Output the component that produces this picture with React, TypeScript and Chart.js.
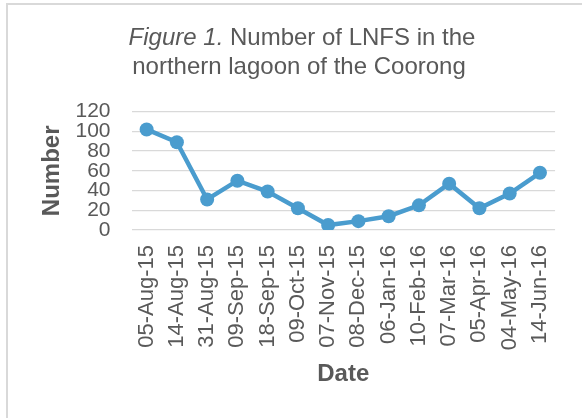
import React, { useEffect, useRef } from 'react';
import { Chart, registerables } from 'chart.js';

Chart.register(...registerables);

const categories = [
  '05-Aug-15', '14-Aug-15', '31-Aug-15', '09-Sep-15', '18-Sep-15', '09-Oct-15', '07-Nov-15',
  '08-Dec-15', '06-Jan-16', '10-Feb-16', '07-Mar-16', '05-Apr-16', '04-May-16', '14-Jun-16',
];
const counts = [102, 89, 31, 50, 39, 22, 5, 9, 14, 25, 47, 22, 37, 58];
const yTicks = [0, 20, 40, 60, 80, 100, 120];
const titleItalic = 'Figure 1.';
const titleRest = ' Number of LNFS in the';
const titleLine2 = 'northern lagoon of the Coorong';
const xTitle = 'Date';
const yTitle = 'Number';

const TEXT = '#595959';
const LINE = '#4A9CCE';
const FAMILY = '"Liberation Sans", Arial, Helvetica, sans-serif';

const titlePlugin = {
  id: 'figTitle',
  afterDraw(chart: any) {
    const ctx = chart.ctx as CanvasRenderingContext2D;
    ctx.save();
    ctx.fillStyle = TEXT;
    ctx.textBaseline = 'alphabetic';
    const italic = `italic 24px ${FAMILY}`;
    const normal = `24px ${FAMILY}`;
    ctx.font = italic;
    const w1 = ctx.measureText(titleItalic).width;
    ctx.font = normal;
    const w2 = ctx.measureText(titleRest).width;
    const cx = 302;
    const x0 = cx - (w1 + w2) / 2;
    ctx.textAlign = 'left';
    ctx.font = italic;
    ctx.fillText(titleItalic, x0, 45);
    ctx.font = normal;
    ctx.fillText(titleRest, x0 + w1, 45);
    ctx.textAlign = 'center';
    ctx.fillText(titleLine2, cx - 3, 74);
    ctx.restore();
  },
};

export default function App() {
  const ref = useRef<HTMLCanvasElement | null>(null);

  useEffect(() => {
    if (!ref.current) return;
    const chart = new Chart(ref.current, {
      type: 'line',
      data: {
        labels: categories,
        datasets: [
          {
            data: counts,
            borderColor: LINE,
            backgroundColor: LINE,
            borderWidth: 4.5,
            pointRadius: 7,
            pointBackgroundColor: LINE,
            pointBorderColor: LINE,
            pointBorderWidth: 0,
            tension: 0,
            fill: false,
          },
        ],
      },
      options: {
        responsive: false,
        animation: false,
        devicePixelRatio: 1,
        layout: { padding: { top: 111.7, right: 18.5, bottom: 0, left: 0 } },
        plugins: {
          legend: { display: false },
          title: { display: false },
          tooltip: { enabled: false },
        },
        scales: {
          x: {
            offset: true,
            grid: { display: false, drawTicks: false },
            border: { display: false },
            ticks: {
              autoSkip: false,
              maxRotation: 90,
              minRotation: 90,
              padding: 15,
              color: TEXT,
              font: { size: 22, family: FAMILY },
            },
            title: {
              display: true,
              text: xTitle,
              color: TEXT,
              font: { size: 24, weight: 'bold', family: FAMILY },
              padding: { top: 0, bottom: 29.6 },
            },
            afterFit(scale: any) {
              scale.height = 188;
            },
          },
          y: {
            min: 0,
            max: 120,
            afterBuildTicks(scale: any) {
              scale.ticks = yTicks.map((v) => ({ value: v }));
            },
            grid: { color: '#D9D9D9', lineWidth: 1.3, drawTicks: false },
            border: { display: false },
            ticks: {
              autoSkip: false,
              padding: 21,
              color: TEXT,
              font: { size: 21, family: FAMILY, lineHeight: 1 },
            },
            title: {
              display: true,
              text: yTitle,
              color: TEXT,
              font: { size: 24, weight: 'bold', family: FAMILY },
              padding: { top: 38, bottom: 0 },
            },
            afterFit(scale: any) {
              scale.width = 131.5;
            },
          },
        },
      },
      plugins: [titlePlugin],
    });
    return () => chart.destroy();
  }, []);

  return (
    <div
      style={{
        position: 'fixed',
        left: 0,
        top: 0,
        width: 582,
        height: 418,
        overflow: 'hidden',
        background: '#FFFFFF',
      }}
    >
      <div
        style={{
          position: 'absolute',
          left: 6,
          top: 3,
          width: 700,
          height: 600,
          borderLeft: '2px solid #D9D9D9',
          borderTop: '2px solid #D9D9D9',
          boxSizing: 'border-box',
        }}
      />
      <canvas
        ref={ref}
        width={582}
        height={418}
        style={{ position: 'absolute', left: 0, top: 0, width: 582, height: 418 }}
      />
    </div>
  );
}
